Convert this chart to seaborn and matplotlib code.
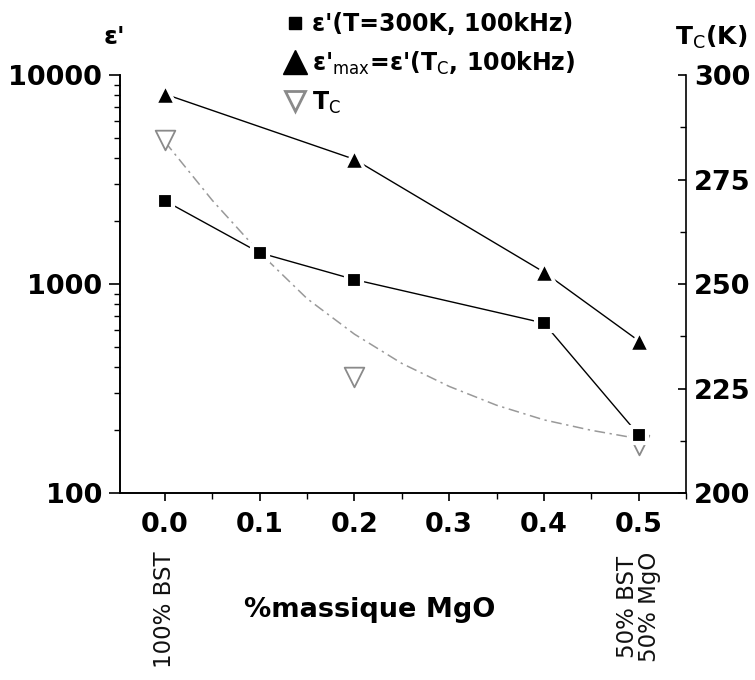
import numpy as np
import pandas as pd
import matplotlib
matplotlib.use("Agg")
import matplotlib.pyplot as plt
from matplotlib.lines import Line2D
from matplotlib.ticker import FixedLocator, MultipleLocator, LogLocator, NullFormatter
import seaborn as sns

# data
x_eps300 = [0.0, 0.1, 0.2, 0.4, 0.5]
eps_300K = [2500, 1410, 1050, 650, 190]

x_epsmax = [0.0, 0.2, 0.4, 0.5]
eps_max = [8100, 3950, 1140, 535]

x_tc = [0.0, 0.2, 0.5]
tc = [284.5, 227.8, 211.5]

# dash-dot fit curve through Tc
x_fit = [0.0, 0.05, 0.10, 0.15, 0.20, 0.25, 0.30, 0.35, 0.40, 0.45, 0.50]
tc_fit = [284.0, 270.0, 257.5, 246.5, 238.0, 231.0, 225.5, 221.0, 217.5, 215.0, 213.0]

x_ticks = [0.0, 0.1, 0.2, 0.3, 0.4, 0.5]
left_ticks = [100, 1000, 10000]
right_ticks = [200, 225, 250, 275, 300]

sns.set_theme(style="ticks", rc={'text.color': 'black', 'xtick.color': 'black',
                                 'ytick.color': 'black', 'axes.edgecolor': 'black'})
plt.rcParams['font.family'] = ['DejaVu Sans']
plt.rcParams['mathtext.fontset'] = 'dejavusans'

fig = plt.figure(figsize=(7.55, 6.8), dpi=100)
ax = fig.add_axes([120 / 755, 1 - 493 / 680, 566 / 755, 418 / 680])
ax2 = ax.twinx()
# keep the epsilon series above the Tc marks
ax.set_zorder(ax2.get_zorder() + 1)
ax.patch.set_visible(False)

df300 = pd.DataFrame({'x': x_eps300, 'eps': eps_300K})
dfmax = pd.DataFrame({'x': x_epsmax, 'eps': eps_max})
dftc = pd.DataFrame({'x': x_tc, 'tc': tc})
dffit = pd.DataFrame({'x': x_fit, 'tc': tc_fit})

sns.lineplot(data=dffit, x='x', y='tc', ax=ax2, color='#999999', lw=1.1,
             linestyle=(0, (7, 3, 1.5, 3)), zorder=1)
sns.scatterplot(data=dftc, x='x', y='tc', ax=ax2, marker='v', s=200,
                facecolor='white', edgecolor='#8a8a8a', linewidth=1.3, zorder=3)

sns.lineplot(data=df300, x='x', y='eps', ax=ax, color='black', lw=1.0,
             marker='s', markersize=11, mec='white', mew=3, zorder=4)
sns.lineplot(data=dfmax, x='x', y='eps', ax=ax, color='black', lw=1.0,
             marker='^', markersize=15, mec='white', mew=2.5, zorder=4)

# left axis (log)
ax.set_yscale('log')
ax.set_ylim(100, 10000)
ax.set_xlim(-0.0475, 0.55)
ax.yaxis.set_major_locator(FixedLocator(left_ticks))
ax.set_yticklabels([str(v) for v in left_ticks])
ax.yaxis.set_minor_locator(LogLocator(base=10, subs=np.arange(2, 10)))
ax.yaxis.set_minor_formatter(NullFormatter())
ax.xaxis.set_major_locator(FixedLocator(x_ticks))
ax.set_xticklabels([f"{v:.1f}" for v in x_ticks])
ax.xaxis.set_minor_locator(MultipleLocator(0.05))
ax.set_xlabel('')
ax.set_ylabel('')

ax2.set_ylim(200, 300)
ax2.yaxis.set_major_locator(FixedLocator(right_ticks))
ax2.set_yticklabels([str(v) for v in right_ticks])
ax2.yaxis.set_minor_locator(MultipleLocator(12.5))
ax2.set_ylabel('')

ax.tick_params(axis='y', which='major', direction='out', length=8, width=1.2, pad=5)
ax.tick_params(axis='y', which='minor', direction='out', length=4.5, width=1.0)
ax.tick_params(axis='x', which='major', direction='out', length=6, width=1.2, pad=8)
ax.tick_params(axis='x', which='minor', direction='out', length=4, width=1.0)
ax2.tick_params(axis='y', which='major', direction='in', length=6, width=1.2, pad=6)
ax2.tick_params(axis='y', which='minor', direction='in', length=4, width=1.0)

for a in (ax, ax2):
    for lab in a.get_xticklabels() + a.get_yticklabels():
        lab.set_fontsize(19.5)
        lab.set_fontweight('bold')
        lab.set_color('black')
    for sp in a.spines.values():
        sp.set_linewidth(1.2)
        sp.set_color('black')
ax.spines['top'].set_visible(False)
ax2.spines['top'].set_visible(False)
ax.spines['right'].set_visible(False)

# axis titles
fig.text(114 / 755, 1 - 37 / 680, "ε'", fontsize=18, fontweight='bold', ha='center', va='center')
fig.text(711 / 755, 1 - 37 / 680, r"T$_{\mathrm{C}}$(K)", fontsize=18, fontweight='bold',
         ha='center', va='center')
fig.text(370 / 755, 1 - 610 / 680, "%massique MgO", fontsize=19.5, fontweight='bold',
         ha='center', va='center')

# composition notes under the axis
trans = ax.get_xaxis_transform()
ax.text(0.0, -0.14, "100% BST", rotation=90, ha='center', va='top', transform=trans,
        fontsize=16.5, color='#111111')
ax.text(0.5, -0.14, "50% BST\n50% MgO", rotation=90, ha='center', va='top', transform=trans,
        fontsize=16.5, color='#111111', linespacing=0.95)

handles = [
    Line2D([], [], ls='none', marker='s', color='black', markersize=9),
    Line2D([], [], ls='none', marker='^', color='black', markersize=17),
    Line2D([], [], ls='none', marker='v', markerfacecolor='white', markeredgecolor='#8a8a8a',
           markeredgewidth=2, markersize=15),
]
labels = ["ε'(T=300K, 100kHz)",
          r"ε'$_{\mathrm{max}}$=ε'(T$_{\mathrm{C}}$, 100kHz)",
          r"T$_{\mathrm{C}}$"]
fig.legend(handles, labels, loc='upper left', bbox_to_anchor=(274 / 755, 1 - 3 / 680),
           frameon=False, prop={'size': 17, 'weight': 'bold'}, handletextpad=0.2,
           handlelength=1.0, labelspacing=0.55, borderaxespad=0)

fig.savefig("out.png", dpi=100)
